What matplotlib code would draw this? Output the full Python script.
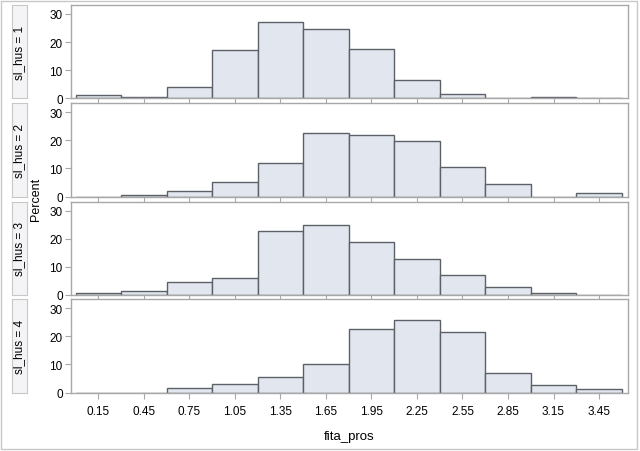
import matplotlib
matplotlib.use("Agg")
import matplotlib.pyplot as plt
from matplotlib.patches import Rectangle

plt.rcParams['font.family'] = ['Liberation Sans', 'DejaVu Sans']

bin_centers = [0.15, 0.45, 0.75, 1.05, 1.35, 1.65, 1.95, 2.25, 2.55, 2.85, 3.15, 3.45]
tick_labels = ["0.15", "0.45", "0.75", "1.05", "1.35", "1.65", "1.95", "2.25", "2.55", "2.85", "3.15", "3.45"]
panel_labels = ["sl_hus = 1", "sl_hus = 2", "sl_hus = 3", "sl_hus = 4"]
pct_hus1 = [1.0, 0.4, 3.9, 17.1, 27.2, 24.7, 17.7, 6.6, 1.4, 0.0, 0.5, 0.0]
pct_hus2 = [0.0, 0.6, 2.1, 5.1, 12.1, 22.5, 22.0, 19.9, 10.6, 4.6, 0.0, 1.2]
pct_hus3 = [0.7, 1.3, 4.5, 5.9, 22.8, 25.0, 18.7, 12.8, 7.0, 2.7, 0.6, 0.0]
pct_hus4 = [0.0, 0.0, 1.5, 3.0, 5.6, 10.1, 22.5, 25.7, 21.6, 7.1, 2.6, 1.2]
series = [pct_hus1, pct_hus2, pct_hus3, pct_hus4]
bin_width = 0.3

W, H = 640, 452
fig = plt.figure(figsize=(W / 100, H / 100), dpi=100)
fig.patch.set_facecolor('white')

# outer border
fig.add_artist(Rectangle((1 / W, 2 / H), (W - 4) / W, (H - 4) / H, transform=fig.transFigure,
                         fill=False, edgecolor='#C8C8C8', linewidth=1.0))

panels_px = [(6, 99.3), (104, 197.7), (202.5, 296), (300, 393.7)]
ax_left, ax_right = 71, 628
strip_left, strip_right = 11.5, 26.5

fill = '#E2E7EF'
edge = '#5C6168'
frame = '#A8A8A8'

axes = []
for i, ((top, bot), vals, lab) in enumerate(zip(panels_px, series, panel_labels)):
    ax = fig.add_axes([ax_left / W, (H - bot) / H, (ax_right - ax_left) / W, (bot - top) / H])
    ax.bar(bin_centers, vals, width=bin_width, color=fill, edgecolor=edge, linewidth=1.0, zorder=2)
    ax.set_xlim(-0.03, 3.641)
    ax.set_ylim(0, 33.2)
    ax.set_yticks([0, 10, 20, 30])
    ax.tick_params(axis='y', labelsize=8.5, length=4, color=frame, pad=2)
    ax.set_xticks(bin_centers)
    if i == 3:
        ax.set_xticklabels(tick_labels)
        ax.tick_params(axis='x', labelsize=8.5, length=4, color=frame, pad=5)
        ax.set_xlabel("fita_pros", fontsize=9.5, labelpad=9)
    else:
        ax.tick_params(axis='x', labelbottom=False, length=4, color=frame)
    for s in ax.spines.values():
        s.set_color(frame)
        s.set_linewidth(1.0)
    # strip label box
    sax = fig.add_axes([strip_left / W, (H - bot) / H, (strip_right - strip_left) / W, (bot - top) / H])
    sax.set_facecolor('#F4F4F6')
    sax.set_xticks([])
    sax.set_yticks([])
    for s in sax.spines.values():
        s.set_color('#C8C8C8')
    sax.text(0.5, 0.5, lab, rotation=90, ha='center', va='center', fontsize=8.5,
             transform=sax.transAxes)
    axes.append(ax)

fig.text(36 / W, (H - 199.8) / H, "Percent", rotation=90, ha='center', va='center', fontsize=9)

fig.savefig("out.png", dpi=100)
